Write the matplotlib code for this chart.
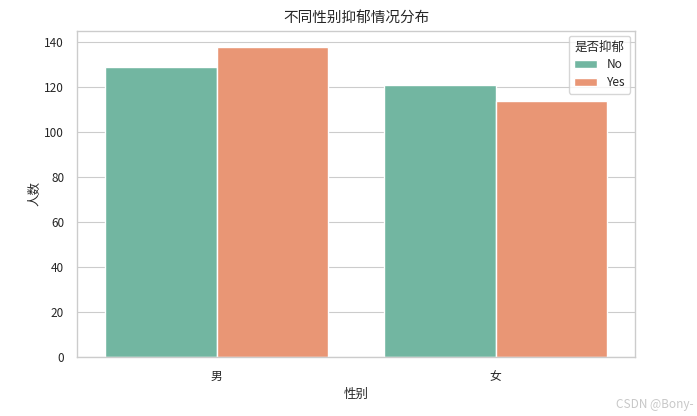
import matplotlib
matplotlib.use("Agg")
import matplotlib.pyplot as plt
import seaborn as sns
import pandas as pd

genders = ["男", "女"]
labels = ["No", "Yes"]
no_counts = [129, 121]
yes_counts = [138, 114]

df = pd.DataFrame({
    "性别": genders * 2,
    "是否抑郁": [labels[0]] * 2 + [labels[1]] * 2,
    "人数": no_counts + yes_counts,
})

sns.set_theme(style="whitegrid")
plt.rcParams["font.family"] = ["Noto Sans CJK SC", "DejaVu Sans"]
plt.rcParams["axes.unicode_minus"] = False
plt.rcParams["grid.linewidth"] = 0.8
plt.rcParams["axes.linewidth"] = 1.0

fig, ax = plt.subplots(figsize=(6.97, 4.16), dpi=100)
sns.barplot(data=df, x="性别", y="人数", hue="是否抑郁", palette="Set2", ax=ax)

ax.set_title("不同性别抑郁情况分布", fontsize=10.5)
ax.set_xlabel("性别", fontsize=9)
ax.set_ylabel("人数", fontsize=9, labelpad=2)
ax.tick_params(labelsize=8.5)
ax.set_ylim(0, 144.9)
ax.legend(title="是否抑郁", fontsize=8.5, title_fontsize=9, loc="upper right",
          labelspacing=0.4, borderaxespad=0.4)

fig.subplots_adjust(left=0.111, right=0.911, top=0.925, bottom=0.143)
fig.text(0.995, 0.012, "CSDN @Bony-", ha="right", va="bottom", fontsize=8.5, color="#c8c8c8")

fig.savefig("out.png", dpi=100)
